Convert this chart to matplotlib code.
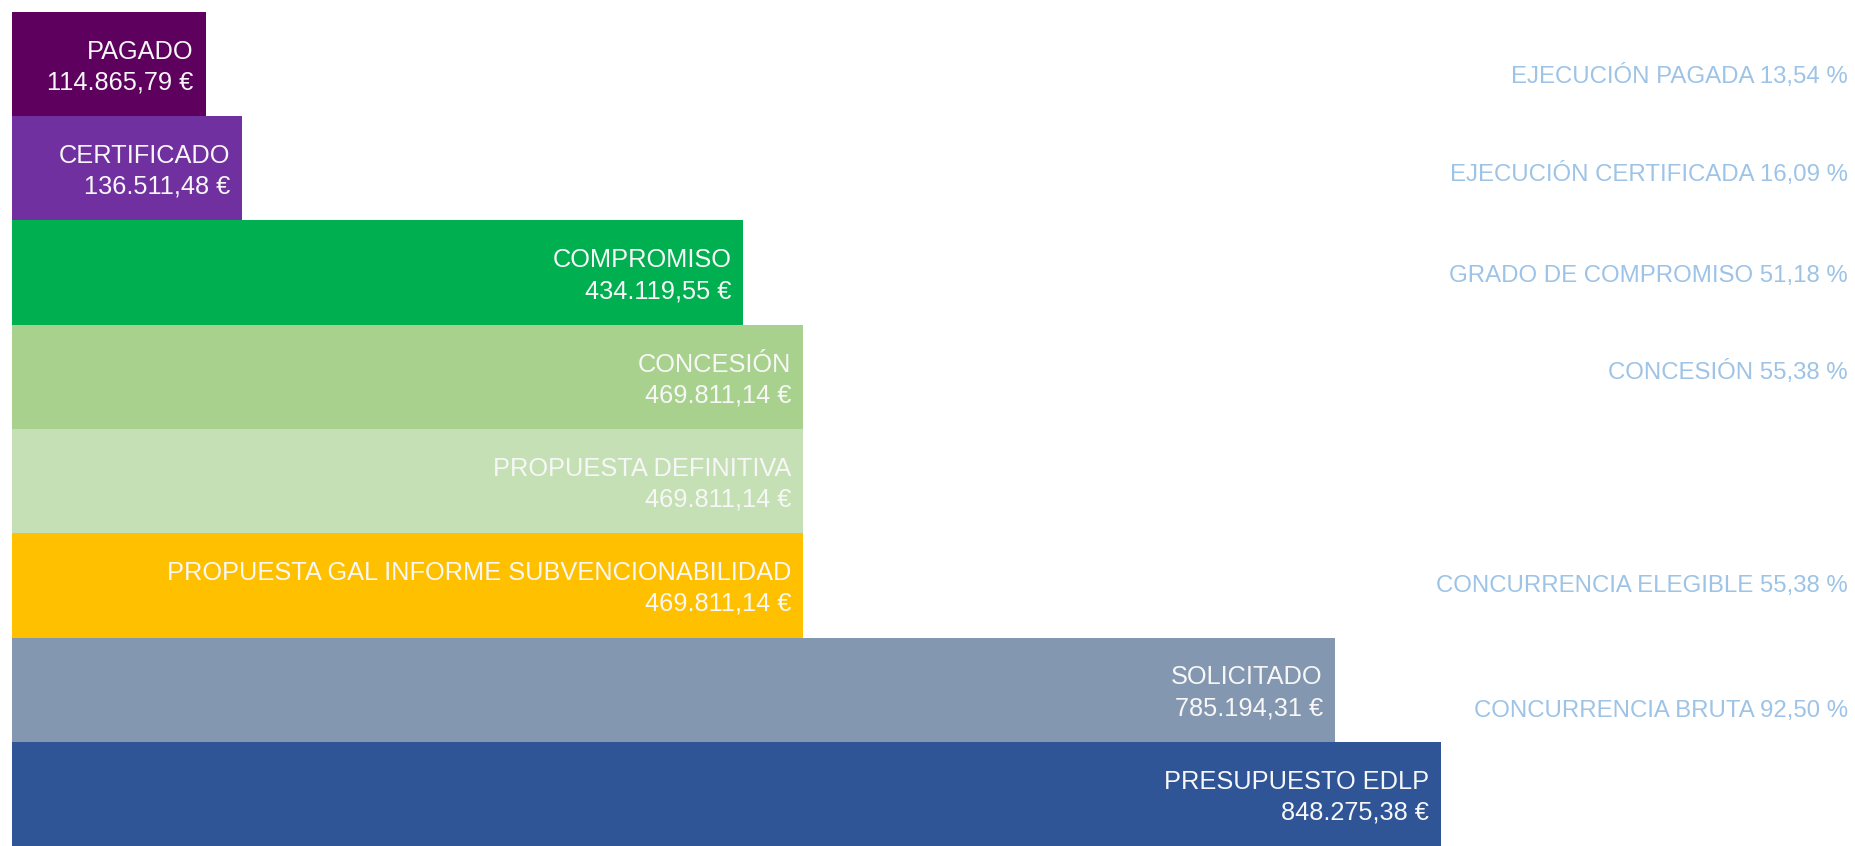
import matplotlib
matplotlib.use("Agg")
import matplotlib.pyplot as plt
from matplotlib.transforms import blended_transform_factory

# ---- data ----
categories = ["PAGADO", "CERTIFICADO", "COMPROMISO", "CONCESIÓN",
              "PROPUESTA DEFINITIVA", "PROPUESTA GAL INFORME SUBVENCIONABILIDAD",
              "SOLICITADO", "PRESUPUESTO EDLP"]
values = [114865.79, 136511.48, 434119.55, 469811.14,
          469811.14, 469811.14, 785194.31, 848275.38]
value_labels = ["114.865,79 €", "136.511,48 €", "434.119,55 €", "469.811,14 €",
                "469.811,14 €", "469.811,14 €", "785.194,31 €", "848.275,38 €"]
ratio_labels = ["EJECUCIÓN PAGADA 13,54 %", "EJECUCIÓN CERTIFICADA 16,09 %",
                "GRADO DE COMPROMISO 51,18 %", "CONCESIÓN 55,38 %", "",
                "CONCURRENCIA ELEGIBLE 55,38 %", "CONCURRENCIA BRUTA 92,50 %", ""]

# ---- styles ----
colors = ["#5E005E", "#7030A0", "#00B050", "#A9D18E",
          "#C5E0B4", "#FFC000", "#8497B0", "#2F5597"]
ratio_offsets = [0.184, 0.118, 0.09, 0.02, 0.0, 0.063, 0.263, 0.0]
FONT = ["Liberation Sans", "DejaVu Sans"]

W, H = 1856, 846
fig = plt.figure(figsize=(W / 100, H / 100), dpi=100)
fig.patch.set_facecolor("white")
ax = fig.add_axes([12 / W, 0, 1429 / W, 834 / H])
ypos = list(range(len(categories)))
ax.barh(ypos, values, height=1.0, color=colors, linewidth=0)
ax.set_xlim(0, max(values))
ax.set_ylim(len(categories) - 0.5, -0.5)
ax.axis("off")

for i, (name, v, vl) in enumerate(zip(categories, values, value_labels)):
    ax.annotate(name, xy=(v, i - 0.05), xytext=(-12, 0), textcoords="offset pixels",
                ha="right", va="baseline", fontsize=18.3, color="#F7F7F7", family=FONT)
    ax.annotate(vl, xy=(v, i + 0.245), xytext=(-12, 0), textcoords="offset pixels",
                ha="right", va="baseline", fontsize=18.3, color="#F7F7F7", family=FONT)

tr = blended_transform_factory(fig.transFigure, ax.transData)
for i, (lab, off) in enumerate(zip(ratio_labels, ratio_offsets)):
    if lab:
        ax.text(1848 / W, i + off, lab, transform=tr, ha="right", va="baseline",
                fontsize=17.3, color="#9DC3E6", family=FONT, clip_on=False)

fig.savefig("out.png", dpi=100, facecolor="white")
